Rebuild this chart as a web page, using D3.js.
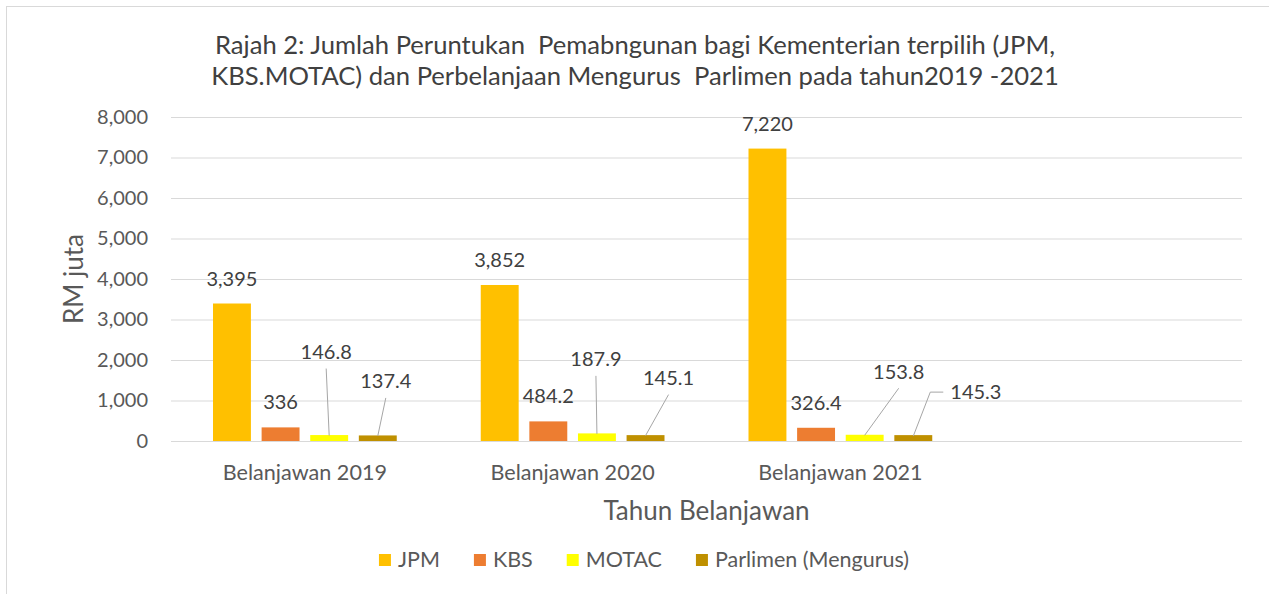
<!DOCTYPE html>
<html>
<head>
<meta charset="utf-8">
<script src="https://cdn.jsdelivr.net/npm/d3@7"></script>
<style>
  body { margin: 0; background: #fff; }
  svg text { font-family: Lato, "Open Sans", sans-serif; }
</style>
</head>
<body>
<script>
// data
const categories = ["Belanjawan 2019", "Belanjawan 2020", "Belanjawan 2021", ""];
const seriesNames = ["JPM", "KBS", "MOTAC", "Parlimen (Mengurus)"];
const jpm = [3395, 3852, 7220];
const kbs = [336, 484.2, 326.4];
const motac = [146.8, 187.9, 153.8];
const parlimen = [137.4, 145.1, 145.3];
const yTicks = [0, 1000, 2000, 3000, 4000, 5000, 6000, 7000, 8000];
const titleLines = [
    "Rajah 2: Jumlah Peruntukan  Pemabngunan bagi Kementerian terpilih (JPM,",
    "KBS.MOTAC) dan Perbelanjaan Mengurus  Parlimen pada tahun2019 -2021"
];

const colors = ["#FFC000", "#ED7D31", "#FFFF00", "#BF9000"];
const seriesValues = [jpm, kbs, motac, parlimen];

// labels that were dragged away from their bars (offset from bar top centre, px)
const movedLabels = {
    "MOTAC": [[-3, -83, "up"], [-1, -74, "up"], [34, -63, "up"]],
    "Parlimen (Mengurus)": [[8, -54, "up"], [23, -57, "up"], [37, -43, "side"]]
};

const width = 1269;
const height = 594;
const plotLeft = 171, plotRight = 1242, plotTop = 117, plotBottom = 441;

const svg = d3.select("body")
    .append("svg")
    .attr("width", width)
    .attr("height", height);

// chart border (only left/top are inside the picture)
svg.append("rect")
    .attr("x", 6.5).attr("y", 6.5)
    .attr("width", 1400).attr("height", 800)
    .attr("fill", "none")
    .attr("stroke", "#d9d9d9");

// scales
const x0 = d3.scaleBand().domain(categories).range([plotLeft, plotRight]);
const x1 = d3.scaleBand().domain(seriesNames)
    .range([42, x0.bandwidth() - 42])
    .paddingInner(0.22);
const y = d3.scaleLinear().domain([0, 8000]).range([plotBottom, plotTop]);

// title
svg.append("g").selectAll("text")
    .data(titleLines)
    .join("text")
    .attr("x", 635)
    .attr("y", (d, i) => 54 + i * 31)
    .attr("text-anchor", "middle")
    .style("white-space", "pre")
    .attr("font-size", 25.6)
    .attr("fill", "#404040")
    .text(d => d);

// y axis + gridlines
const yAxis = d3.axisLeft(y)
    .tickValues(yTicks)
    .tickFormat(d3.format(","))
    .tickSize(-(plotRight - plotLeft))
    .tickPadding(23);
const gy = svg.append("g")
    .attr("transform", `translate(${plotLeft},0)`)
    .call(yAxis);
gy.select(".domain").remove();
gy.selectAll(".tick line").attr("stroke", "#d9d9d9");
gy.selectAll(".tick text")
    .attr("font-size", 20)
    .attr("fill", "#595959");

// x axis labels
const xAxis = d3.axisBottom(x0).tickSize(0).tickPadding(24);
const gx = svg.append("g")
    .attr("transform", `translate(0,${plotBottom})`)
    .call(xAxis);
gx.select(".domain").remove();
gx.selectAll(".tick text")
    .attr("font-size", 21.6)
    .attr("fill", "#595959");

// axis titles
svg.append("text")
    .attr("x", (plotLeft + plotRight) / 2)
    .attr("y", 520)
    .attr("text-anchor", "middle")
    .attr("font-size", 26)
    .attr("fill", "#595959")
    .text("Tahun Belanjawan");

svg.append("text")
    .attr("transform", `translate(83,${(plotTop + plotBottom) / 2}) rotate(-90)`)
    .attr("text-anchor", "middle")
    .attr("font-size", 26)
    .attr("fill", "#595959")
    .text("RM juta");

// bars
const fmt = d3.format(",");
seriesNames.forEach((name, si) => {
    const values = seriesValues[si];
    const g = svg.append("g");
    g.selectAll("rect")
        .data(values)
        .join("rect")
        .attr("x", (d, i) => x0(categories[i]) + x1(name))
        .attr("y", d => y(d))
        .attr("width", x1.bandwidth())
        .attr("height", d => y(0) - y(d))
        .attr("fill", colors[si]);

    values.forEach((v, i) => {
        const bx = x0(categories[i]) + x1(name) + x1.bandwidth() / 2;
        const by = y(v);
        const moved = movedLabels[name];
        if (!moved) {
            g.append("text")
                .attr("x", bx)
                .attr("y", by - 18)
                .attr("text-anchor", "middle")
                .attr("font-size", 20)
                .attr("fill", "#404040")
                .text(fmt(v));
            return;
        }
        const [dx, dy, kind] = moved[i];
        const lx = bx + dx;
        const cy = by + dy;
        g.append("text")
            .attr("x", lx)
            .attr("y", cy + 7)
            .attr("text-anchor", kind === "side" ? "start" : "middle")
            .attr("font-size", 20)
            .attr("fill", "#404040")
            .text(fmt(v));
        // leader line
        let pts;
        if (kind === "side") {
            pts = [[lx - 7, cy], [lx - 20, cy], [bx, by + 1]];
        } else {
            pts = [[lx, cy + 16.5], [bx, by + 0.5]];
        }
        g.append("path")
            .attr("d", d3.line()(pts))
            .attr("fill", "none")
            .attr("stroke", "#a6a6a6")
            .attr("stroke-width", 1);
    });
});

// legend
const legend = svg.append("g");
const items = legend.selectAll("g")
    .data(seriesNames)
    .join("g");
items.append("rect")
    .attr("width", 12).attr("height", 12)
    .attr("y", 554)
    .attr("fill", (d, i) => colors[i]);
items.append("text")
    .attr("x", 19)
    .attr("y", 567)
    .attr("font-size", 21.5)
    .attr("fill", "#595959")
    .text(d => d);
let cursor = 0;
const offsets = [];
items.each(function () {
    offsets.push(cursor);
    cursor += 19 + d3.select(this).select("text").node().getComputedTextLength() + 34;
});
const total = cursor - 34;
const start = 644 - total / 2;
items.attr("transform", (d, i) => `translate(${start + offsets[i]},0)`);
</script>
</body>
</html>
